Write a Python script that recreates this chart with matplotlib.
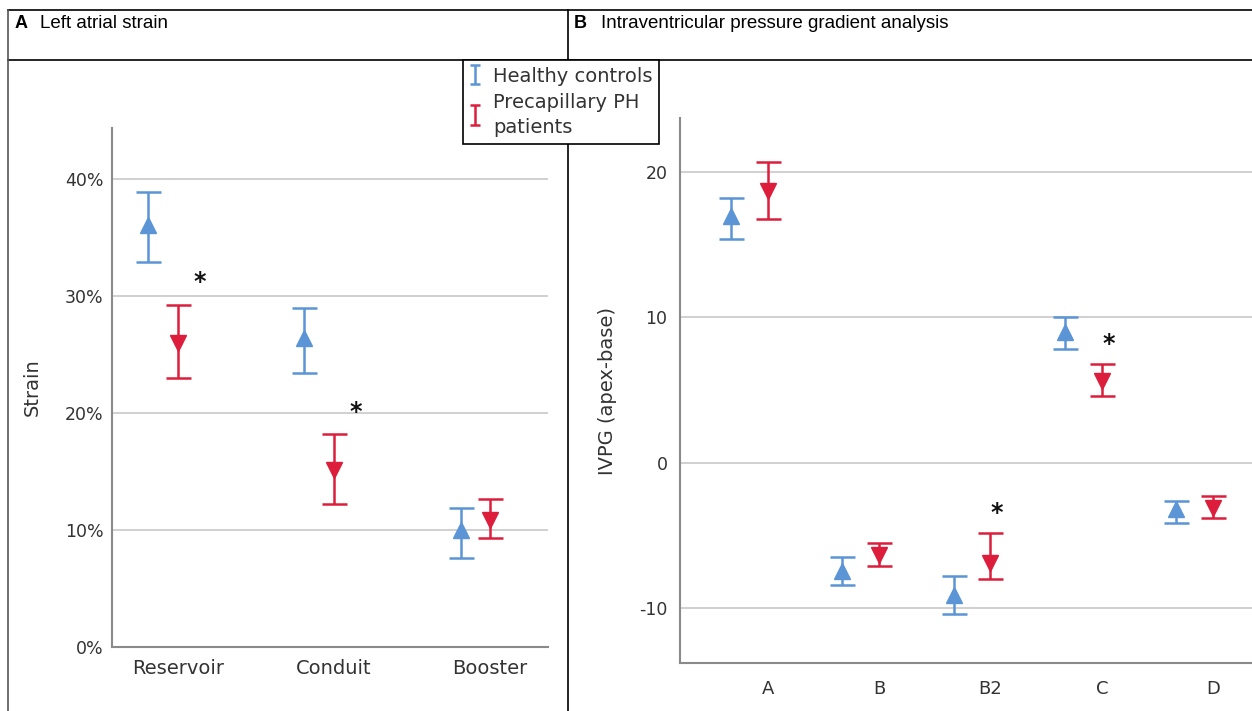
import numpy as np
import matplotlib
matplotlib.use("Agg")
import matplotlib.pyplot as plt
from matplotlib.lines import Line2D
from matplotlib.ticker import FuncFormatter

plt.rcParams['font.family'] = ['DejaVu Sans']
plt.rcParams['axes.unicode_minus'] = False

BLUE = '#5b95d6'
RED = '#dc1e3c'

# A: left atrial strain (%)
strain_cats = ['Reservoir', 'Conduit', 'Booster']
strain_hc = [36.1, 26.4, 10.0]
strain_hc_lo = [32.9, 23.4, 7.6]
strain_hc_hi = [38.9, 29.0, 11.9]
strain_ph = [26.0, 15.1, 10.9]
strain_ph_lo = [23.0, 12.2, 9.3]
strain_ph_hi = [29.3, 18.2, 12.7]
strain_sig = [True, True, False]

# B: IVPG (apex-base)
ivpg_cats = ['A', 'B', 'B2', 'C', 'D']
ivpg_hc = [16.95, -7.4, -9.1, 9.0, -3.2]
ivpg_hc_lo = [15.4, -8.4, -10.4, 7.8, -4.1]
ivpg_hc_hi = [18.2, -6.5, -7.8, 10.0, -2.6]
ivpg_ph = [18.7, -6.3, -6.9, 5.6, -3.1]
ivpg_ph_lo = [16.75, -7.1, -8.0, 4.6, -3.8]
ivpg_ph_hi = [20.7, -5.5, -4.8, 6.8, -2.3]
ivpg_sig = [False, False, True, True, False]

W, H = 1252, 711
fig = plt.figure(figsize=(W / 100, H / 100), dpi=100)


def px(x0, y0, x1, y1):
    return [x0 / W, 1 - y1 / H, (x1 - x0) / W, (y1 - y0) / H]


def panel(ax, cats, hc, hc_lo, hc_hi, ph, ph_lo, ph_hi, sig, dx, sdx, sdy):
    x = np.arange(len(cats))
    hc, ph = np.array(hc), np.array(ph)
    ax.errorbar(x - dx, hc, yerr=[hc - np.array(hc_lo), np.array(hc_hi) - hc],
                fmt='^', color=BLUE, ms=12, elinewidth=1.8, capsize=9,
                capthick=1.8, zorder=3)
    ax.errorbar(x, ph, yerr=[ph - np.array(ph_lo), np.array(ph_hi) - ph],
                fmt='v', color=RED, ms=12, elinewidth=1.8, capsize=9,
                capthick=1.8, zorder=3)
    for i, s in enumerate(sig):
        if s:
            ax.annotate('*', (x[i] + sdx, ph_hi[i]), xytext=(0, sdy),
                        textcoords='offset points', ha='center', va='center',
                        fontsize=17, fontweight='bold', color='#111111')
    ax.set_xticks(x)
    ax.set_xticklabels(cats)
    ax.grid(axis='y', color='#c8c8c8', lw=1.2)
    ax.set_axisbelow(True)
    for s in ['top', 'right']:
        ax.spines[s].set_visible(False)
    for s in ['left', 'bottom']:
        ax.spines[s].set_color('#8a8a8a')
        ax.spines[s].set_linewidth(1.5)
    ax.tick_params(length=0, labelsize=12.5, colors='#333333')


ax1 = fig.add_axes(px(112, 128, 548, 647))
panel(ax1, strain_cats, strain_hc, strain_hc_lo, strain_hc_hi,
      strain_ph, strain_ph_lo, strain_ph_hi, strain_sig, 0.19, 0.14, 16)
ax1.set_xlim(-0.423, 2.37)
ax1.set_ylim(0, 44.4)
ax1.set_yticks([0, 10, 20, 30, 40])
ax1.yaxis.set_major_formatter(FuncFormatter(lambda v, p: f'{v:.0f}%'))
ax1.tick_params(axis='y', pad=6)
ax1.tick_params(axis='x', pad=9, labelsize=14)
ax1.set_ylabel('Strain', fontsize=14, color='#333333', labelpad=17)

ax2 = fig.add_axes(px(680, 118, 1252, 663))
panel(ax2, ivpg_cats, ivpg_hc, ivpg_hc_lo, ivpg_hc_hi,
      ivpg_ph, ivpg_ph_lo, ivpg_ph_hi, ivpg_sig, 0.33, 0.06, 14)
ax2.set_xlim(-0.79, 4.35)
ax2.set_ylim(-13.75, 23.7)
ax2.set_yticks([-10, 0, 10, 20])
ax2.tick_params(axis='y', pad=9)
ax2.tick_params(axis='x', pad=12, labelsize=13)
ax2.set_ylabel('IVPG (apex-base)', fontsize=14, color='#333333', labelpad=16)

# table frame around the panels
def fline(x0, y0, x1, y1, color='black', lw=1.2):
    fig.add_artist(Line2D([x0 / W, x1 / W], [1 - y0 / H, 1 - y1 / H],
                          color=color, lw=lw, zorder=1))

fline(8, 10, W, 10)
fline(8, 60, W, 60)
fline(8, 10, 8, H, color='#555555')
fline(568, 10, 568, H)

fig.text(15 / W, 1 - 23 / H, 'A', fontsize=13, fontweight='bold',
         family='Liberation Sans', va='center')
fig.text(40 / W, 1 - 23 / H, 'Left atrial strain', fontsize=13.5,
         family='Liberation Sans', va='center')
fig.text(574 / W, 1 - 23 / H, 'B', fontsize=13, fontweight='bold',
         family='Liberation Sans', va='center')
fig.text(601 / W, 1 - 23 / H, 'Intraventricular pressure gradient analysis',
         fontsize=13.5, family='Liberation Sans', va='center')

h1 = ax1.errorbar([np.nan], [np.nan], yerr=[1], fmt='none', ecolor=BLUE,
                  elinewidth=1.8, capsize=3.5, capthick=1.8)
h2 = ax1.errorbar([np.nan], [np.nan], yerr=[1], fmt='none', ecolor=RED,
                  elinewidth=1.8, capsize=3.5, capthick=1.8)
leg = fig.legend([h1, h2], ['Healthy controls', 'Precapillary PH\npatients'],
                 loc='upper left', bbox_to_anchor=(463 / W, 1 - 60 / H),
                 borderaxespad=0, fancybox=False, framealpha=1,
                 edgecolor='black', fontsize=14, handlelength=0.5,
                 handletextpad=0.7, borderpad=0.35, labelspacing=0.35,
                 handleheight=0.9)
leg.get_frame().set_linewidth(1.2)
leg.set_zorder(5)
for t in leg.get_texts():
    t.set_color('#333333')
    t.set_linespacing(1.45)

fig.savefig('out.png', dpi=100)
